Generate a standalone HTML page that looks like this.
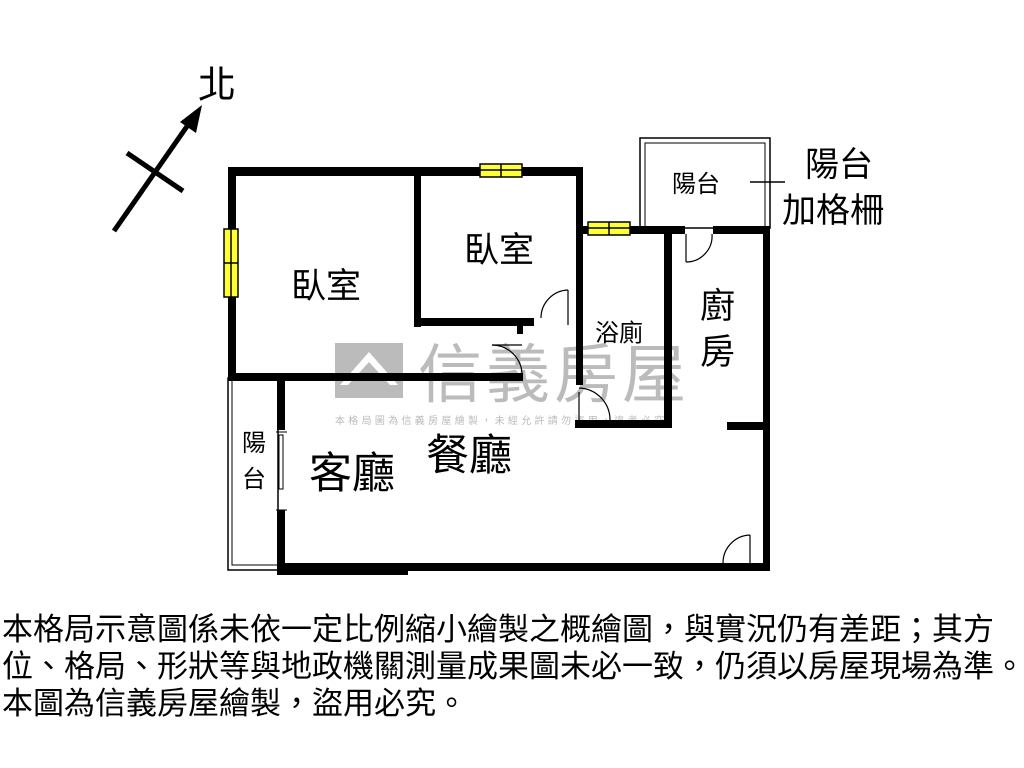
<!DOCTYPE html>
<html><head><meta charset="utf-8"><style>
body{margin:0;width:1024px;height:768px;background:#fff;overflow:hidden;position:relative;font-family:"Liberation Sans","Noto Sans CJK TC",sans-serif}
.t{position:absolute;left:2px;font-size:31px;line-height:37px;white-space:nowrap;color:#000}
</style></head><body>
<svg width="1024" height="768" style="position:absolute;left:0;top:0" font-family="Liberation Sans, Noto Sans CJK TC, sans-serif">
<!-- watermark -->
<rect x="335" y="343" width="68" height="55" fill="#bbb"/>
<path d="M340 385 L369 352 L398 385 L390 385 L369 362 L348 385Z" fill="#fff"/>
<text x="418" y="397" font-size="64" fill="#bbb" letter-spacing="4">信義房屋</text>
<text x="335" y="424" font-size="10" fill="#bbb" letter-spacing="3.3">本格局圖為信義房屋繪製，未經允許請勿盜用，違者必究</text>
<!-- north -->
<line x1="114" y1="231" x2="190" y2="122" stroke="#000" stroke-width="5"/>
<polygon points="202,105 180,122 196,133" fill="#000"/>
<line x1="127" y1="153" x2="183" y2="191" stroke="#000" stroke-width="5"/>
<text x="198" y="98" font-size="38">北</text>
<!-- balconies thin -->
<rect x="640" y="138" width="130" height="90" fill="none" stroke="#000" stroke-width="1.5"/>
<rect x="645" y="143" width="120" height="85" fill="none" stroke="#000" stroke-width="1"/>
<rect x="228" y="378" width="50" height="192" fill="none" stroke="#000" stroke-width="1.5"/>
<rect x="232" y="378" width="46" height="187" fill="none" stroke="#000" stroke-width="1"/>
<line x1="750" y1="182" x2="785" y2="182" stroke="#000" stroke-width="1.5"/>
<!-- walls -->
<g fill="#000">
<rect x="228" y="167" width="355" height="9"/>
<rect x="228" y="167" width="8" height="214"/>
<rect x="414" y="167" width="7" height="160"/>
<rect x="414" y="318" width="120" height="8"/>
<rect x="517" y="326" width="6" height="8"/>
<rect x="576" y="167" width="7" height="218"/>
<rect x="576" y="226" width="96" height="8"/>
<rect x="664" y="226" width="8" height="202"/>
<rect x="575" y="420" width="97" height="8"/>
<rect x="664" y="226" width="21" height="8"/>
<rect x="713" y="226" width="57" height="8"/>
<rect x="763" y="226" width="7" height="345"/>
<rect x="727" y="422" width="43" height="8"/>
<rect x="228" y="373" width="295" height="8"/>
<rect x="277" y="373" width="8" height="57"/>
<rect x="277" y="510" width="8" height="65"/>
<rect x="277" y="563" width="131" height="12"/>
<rect x="406" y="563" width="364" height="8"/>
</g>
<rect x="279" y="435" width="4" height="54" fill="#fff" stroke="#000" stroke-width="1"/>
<line x1="276" y1="432" x2="287" y2="432" stroke="#000"/><line x1="276" y1="510" x2="287" y2="510" stroke="#000"/>
<!-- windows -->
<g fill="#ffff33" stroke="#000" stroke-width="1.5">
<rect x="224" y="229" width="14" height="68"/><line x1="231" y1="229" x2="231" y2="297"/><line x1="224" y1="263" x2="238" y2="263"/>
<rect x="480" y="164" width="42" height="13"/><line x1="480" y1="170" x2="522" y2="170"/><line x1="501" y1="164" x2="501" y2="177"/>
<rect x="588" y="222" width="42" height="13"/><line x1="588" y1="228" x2="630" y2="228"/><line x1="609" y1="222" x2="609" y2="235"/>
</g>
<!-- doors -->
<g fill="none" stroke="#000" stroke-width="1.2">
<line x1="568" y1="290" x2="568" y2="325"/><path d="M568 290 A28 28 0 0 0 541 318"/>
<line x1="522" y1="345" x2="492" y2="345"/><path d="M492 345 A30 30 0 0 1 522 375"/>
<line x1="579" y1="392" x2="579" y2="420"/><path d="M579 388 A32 32 0 0 1 610 420"/>
<line x1="686" y1="234" x2="686" y2="262"/><path d="M686 262 A26 26 0 0 0 712 234"/>
<line x1="750" y1="535" x2="750" y2="568"/><path d="M750 535 A28 28 0 0 0 723 563"/>
</g>
<!-- labels -->
<g font-size="35" fill="#000">
<text x="291" y="298">臥室</text>
<text x="464" y="262">臥室</text>
<text x="700" y="318">廚</text>
<text x="700" y="364">房</text>
<text x="309" y="488" font-size="43">客廳</text>
<text x="426" y="470" font-size="43">餐廳</text>
</g>
<g font-size="24" fill="#000">
<text x="595" y="341">浴廁</text>
<text x="672" y="192">陽台</text>
<text x="242" y="451">陽</text>
<text x="242" y="487">台</text>
</g>
<g font-size="34" fill="#000">
<text x="805" y="176">陽台</text>
<text x="782" y="222">加格柵</text>
</g>
</svg>
<div class="t" style="top:611px">本格局示意圖係未依一定比例縮小繪製之概繪圖，與實況仍有差距；其方</div>
<div class="t" style="top:648px">位、格局、形狀等與地政機關測量成果圖未必一致，仍須以房屋現場為準。</div>
<div class="t" style="top:685px">本圖為信義房屋繪製，盜用必究。</div>
</body></html>
